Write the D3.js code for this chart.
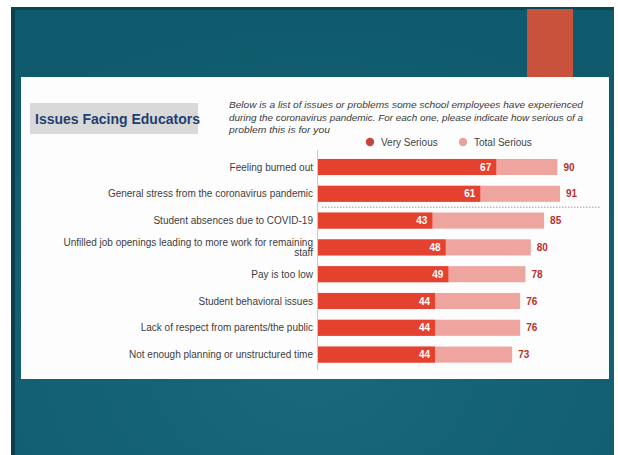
<!DOCTYPE html>
<html>
<head>
<meta charset="utf-8">
<script src="https://cdn.jsdelivr.net/npm/d3@7"></script>
<style>
  html, body { margin: 0; padding: 0; background: #ffffff; }
  svg { display: block; font-family: "Liberation Sans", Arial, sans-serif; }
</style>
</head>
<body>
<svg id="chart" width="618" height="455"></svg>
<script>
// Survey results: share of school employees rating each issue as a problem
const categories = [
  "Feeling burned out",
  "General stress from the coronavirus pandemic",
  "Student absences due to COVID-19",
  "Unfilled job openings leading to more work for remaining staff",
  "Pay is too low",
  "Student behavioral issues",
  "Lack of respect from parents/the public",
  "Not enough planning or unstructured time"
];
const verySerious  = [67, 61, 43, 48, 49, 44, 44, 44];
const totalSerious = [90, 91, 85, 80, 78, 76, 76, 73];
const seriesNames  = ["Very Serious", "Total Serious"];

const rows = categories.map((c, i) => ({ cat: c, very: verySerious[i], total: totalSerious[i] }));

const svg = d3.select("#chart");

// Slide backdrop
const defs = svg.append("defs");
const bg = defs.append("radialGradient").attr("id", "bgGrad")
  .attr("cx", "50%").attr("cy", "80%").attr("r", "75%");
bg.append("stop").attr("offset", "0%").attr("stop-color", "#18697a");
bg.append("stop").attr("offset", "100%").attr("stop-color", "#0f5b6d");

svg.append("rect").attr("x", 11).attr("y", 7).attr("width", 603).attr("height", 448)
  .attr("fill", "url(#bgGrad)");
svg.append("rect").attr("x", 11).attr("y", 7).attr("width", 4).attr("height", 448)
  .attr("fill", "#0b3f4c");
svg.append("rect").attr("x", 11).attr("y", 7).attr("width", 603).attr("height", 3)
  .attr("fill", "#0d4553");
svg.append("rect").attr("x", 527).attr("y", 9).attr("width", 46).attr("height", 68)
  .attr("fill", "#c8523b");
svg.append("rect").attr("x", 21).attr("y", 77).attr("width", 588).attr("height", 302)
  .attr("fill", "#fdfdfd");

// Title block
svg.append("rect").attr("x", 30).attr("y", 103).attr("width", 168).attr("height", 31)
  .attr("fill", "#d9d9d9");
svg.append("text").attr("x", 35).attr("y", 124)
  .attr("font-size", 14).attr("font-weight", "bold").attr("fill", "#1f3f6e")
  .text("Issues Facing Educators");

const intro = [
  "Below is a list of issues or problems some school employees have experienced",
  "during the coronavirus pandemic. For each one, please indicate how serious of a",
  "problem this is for you"
];
const introWidths = [354, 354, 101];
svg.append("g").selectAll("text").data(intro).join("text")
  .attr("x", 229).attr("y", (d, i) => 108 + i * 12.5)
  .attr("font-size", 9.2).attr("font-style", "italic").attr("fill", "#3a3a3a")
  .attr("textLength", (d, i) => introWidths[i])
  .attr("lengthAdjust", "spacingAndGlyphs")
  .text(d => d);

// Legend
const legendColors = ["#c4463e", "#e3a4a1"];
const legend = svg.append("g").selectAll("g").data(seriesNames).join("g")
  .attr("transform", (d, i) => `translate(${i === 0 ? 370 : 463},142)`);
legend.append("circle").attr("r", 4.2).attr("fill", (d, i) => legendColors[i]);
legend.append("text").attr("x", 11).attr("y", 3.5)
  .attr("font-size", 10).attr("fill", "#444").text(d => d);

// Scales
const x = d3.scaleLinear().domain([0, 100]).range([318, 584]);
const y = d3.scaleBand().domain(categories).range([153.6, 368])
  .paddingInner(0.4).paddingOuter(0.2);

// Baseline
svg.append("line").attr("x1", x(0) - 0.5).attr("x2", x(0) - 0.5)
  .attr("y1", 150).attr("y2", 370).attr("stroke", "#c9c9c9").attr("stroke-width", 1);

// Dotted divider under the top two items
const divY = (y(categories[1]) + y.bandwidth() + y(categories[2])) / 2;
svg.append("line").attr("x1", 322).attr("x2", 600).attr("y1", divY).attr("y2", divY)
  .attr("stroke", "#9a9a9a").attr("stroke-width", 1).attr("stroke-dasharray", "1.5,1.5");

const bars = svg.append("g").selectAll("g").data(rows).join("g");

bars.append("rect")
  .attr("x", x(0)).attr("y", d => y(d.cat))
  .attr("width", d => x(d.total) - x(0)).attr("height", y.bandwidth())
  .attr("fill", "#eea5a0");
bars.append("rect")
  .attr("x", x(0)).attr("y", d => y(d.cat))
  .attr("width", d => x(d.very) - x(0)).attr("height", y.bandwidth())
  .attr("fill", "#e5412f");

bars.append("text")
  .attr("x", d => x(d.very) - 5).attr("y", d => y(d.cat) + y.bandwidth() / 2 + 3.6)
  .attr("text-anchor", "end").attr("font-size", 10).attr("font-weight", "bold")
  .attr("fill", "#ffffff").text(d => d.very);
bars.append("text")
  .attr("x", d => x(d.total) + 6).attr("y", d => y(d.cat) + y.bandwidth() / 2 + 3.6)
  .attr("font-size", 10).attr("font-weight", "bold")
  .attr("fill", "#b8302c").text(d => d.total);

// Category labels (right aligned, long ones wrap)
const labelX = 313;
bars.each(function (d) {
  const g = d3.select(this);
  const cy = y(d.cat) + y.bandwidth() / 2;
  let lines = [d.cat];
  if (d.cat.length > 50) {
    const cut = d.cat.lastIndexOf(" ");
    lines = [d.cat.slice(0, cut), d.cat.slice(cut + 1)];
  }
  g.selectAll("text.cat").data(lines).join("text").attr("class", "cat")
    .attr("x", labelX)
    .attr("y", (l, i) => cy + 3.5 + (i - (lines.length - 1) / 2) * 10.5)
    .attr("text-anchor", "end").attr("font-size", 10).attr("fill", "#3d3d3d")
    .text(l => l);
});
</script>
</body>
</html>
